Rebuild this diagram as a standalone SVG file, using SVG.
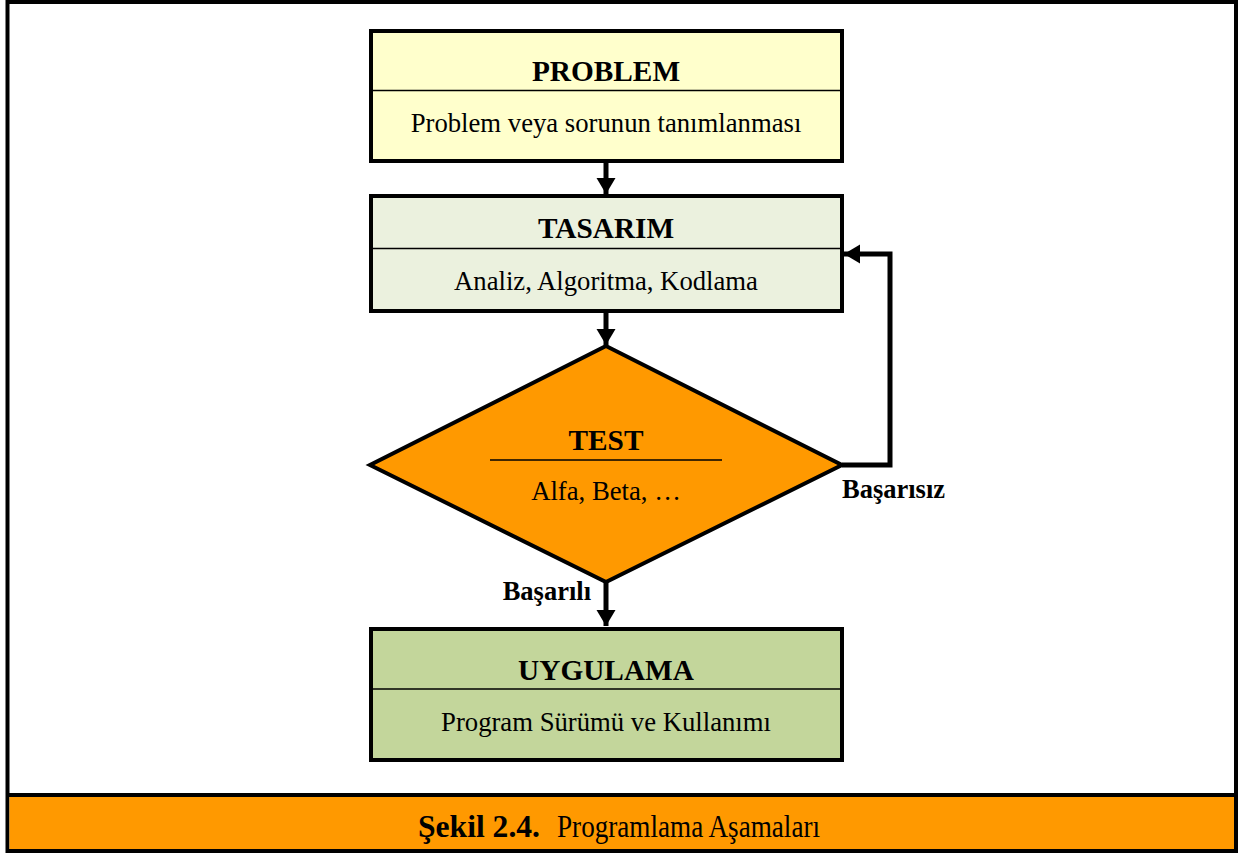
<svg xmlns="http://www.w3.org/2000/svg" width="1241" height="854" viewBox="0 0 1241 854">
<style>
.box{stroke:#000;stroke-width:4}
.div{stroke:#000;stroke-width:1.5}
.title{font-family:"Liberation Serif","Times New Roman",serif;font-weight:bold;font-size:29.3px;text-anchor:middle;fill:#000}
.sub{font-family:"Liberation Serif","Times New Roman",serif;font-size:26.7px;text-anchor:middle;fill:#000}
.lbl{font-family:"Liberation Serif","Times New Roman",serif;font-weight:bold;font-size:26.5px;fill:#000}
.con{fill:none;stroke:#000;stroke-width:5}
.cap{font-family:"Liberation Serif","Times New Roman",serif;font-size:32px;fill:#000}
</style>
<defs>
<marker id="ah" markerUnits="userSpaceOnUse" markerWidth="18" markerHeight="20" refX="16" refY="9.5" orient="auto" viewBox="0 0 18 20">
<path d="M0,0 L16,9.5 L0,19 z" fill="#000"/>
</marker>
</defs>
<rect x="0" y="0" width="1241" height="854" fill="#fff"/>
<g id="frame">
<rect x="7.5" y="2" width="1228.5" height="849" fill="none" stroke="#000" stroke-width="4"/>
<rect x="9.5" y="797" width="1224.5" height="52" fill="#FF9900"/>
<line x1="7.5" y1="795" x2="1236" y2="795" stroke="#000" stroke-width="4"/>
</g>
<g id="connectors">
<line class="con" x1="606" y1="163" x2="606" y2="194" marker-end="url(#ah)"/>
<line class="con" x1="606" y1="313" x2="606" y2="345" marker-end="url(#ah)"/>
<line class="con" x1="606" y1="582" x2="606" y2="626" marker-end="url(#ah)"/>
<path class="con" d="M842,465 H890 V254 H844" marker-end="url(#ah)"/>
<text class="lbl" x="842" y="498">Başarısız</text>
<text class="lbl" x="591" y="600" text-anchor="end">Başarılı</text>
</g>
<g id="problem">
<rect class="box" x="371" y="31" width="471" height="130" fill="#FFFFCC"/>
<line class="div" x1="373" y1="90.5" x2="840" y2="90.5"/>
<text class="title" x="606" y="81">PROBLEM</text>
<text class="sub" x="606" y="132">Problem veya sorunun tanımlanması</text>
</g>
<g id="tasarim">
<rect class="box" x="371" y="196" width="471" height="115" fill="#EBF1DE"/>
<line class="div" x1="373" y1="248.5" x2="840" y2="248.5"/>
<text class="title" x="606" y="238">TASARIM</text>
<text class="sub" x="606" y="290">Analiz, Algoritma, Kodlama</text>
</g>
<g id="test">
<polygon points="606,346 842,465 606,582 370,465" fill="#FF9900" stroke="#000" stroke-width="4"/>
<line class="div" x1="490" y1="460" x2="722" y2="460"/>
<text class="title" x="606" y="450">TEST</text>
<text class="sub" x="606" y="500">Alfa, Beta, …</text>
</g>
<g id="uygulama">
<rect class="box" x="371" y="629" width="471" height="131" fill="#C3D69B"/>
<line class="div" x1="373" y1="689" x2="840" y2="689"/>
<text class="title" x="606" y="680">UYGULAMA</text>
<text class="sub" x="606" y="731">Program Sürümü ve Kullanımı</text>
</g>
<g id="caption">
<text class="cap" y="837"><tspan x="418" font-weight="bold" textLength="122" lengthAdjust="spacingAndGlyphs">Şekil 2.4.</tspan><tspan x="557" textLength="263" lengthAdjust="spacingAndGlyphs">Programlama Aşamaları</tspan></text>
</g>
</svg>
